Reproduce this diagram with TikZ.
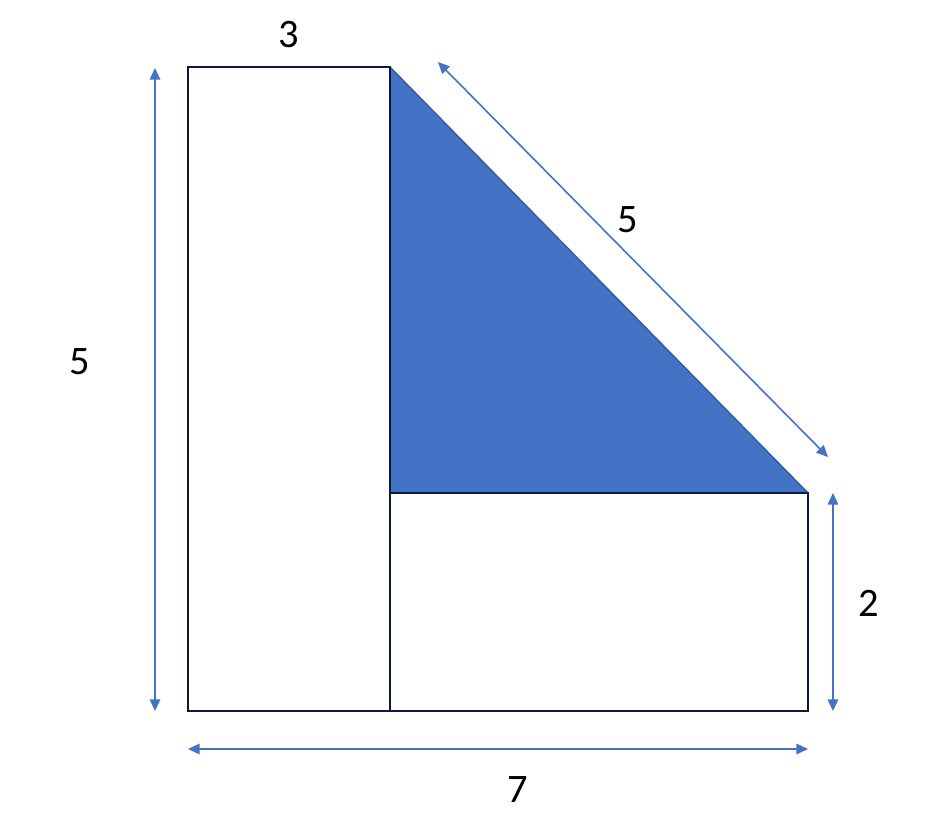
\documentclass[tikz,border=0pt]{standalone}
\usepackage{fontspec}
\setmainfont{Carlito}
\usetikzlibrary{arrows.meta}
\definecolor{shadeblue}{HTML}{4472C4}
\definecolor{edgenavy}{HTML}{0E1A3A}
\begin{document}
\begin{tikzpicture}[x=0.01cm,y=-0.01cm]
	\tikzset{dim/.style={draw=shadeblue,line width=0.45pt,{Triangle[length=3.3pt,width=3pt]}-{Triangle[length=3.3pt,width=3pt]}},
		part/.style={draw=edgenavy,line width=0.8pt},
		lbl/.style={font=\fontsize{11.5}{13}\selectfont,inner sep=0pt}}
	\useasboundingbox (0,0) rectangle (950,835);
	% corners
	\coordinate (tl) at (188,67);
	\coordinate (tm) at (390,67);
	\coordinate (mm) at (390,493);
	\coordinate (mr) at (808,493);
	\coordinate (bl) at (188,711);
	\coordinate (bm) at (390,711);
	\coordinate (br) at (808,711);
	% shaded triangle
	\fill [shadeblue] (tm) -- (mr) -- (mm) -- cycle;
	\draw [shadeblue!80!black,line width=0.4pt] (tm) -- (mr);
	\draw [part] (tl) rectangle (bm);
	\draw [part] (mm) rectangle (br);
	% dimension lines
	\coordinate (ha) at (155,68);
	\coordinate (hb) at (155,711);
	\coordinate (sa) at (438,62);
	\coordinate (sb) at (828,457);
	\coordinate (ra) at (833,493);
	\coordinate (rb) at (833,711);
	\coordinate (wa) at (188,749);
	\coordinate (wb) at (808,749);
	\draw [dim] (ha) -- (hb);
	\draw [dim] (sa) -- (sb);
	\draw [dim] (ra) -- (rb);
	\draw [dim] (wa) -- (wb);
	% labels
	\node [lbl] (top) at (289,35) {3};
	\node [lbl] (left) at (80,362) {5};
	\node [lbl] (slant) at (628,220) {5};
	\node [lbl] (right) at (869,603) {2};
	\node [lbl] (bottom) at (518,790) {7};
\end{tikzpicture}
\end{document}
